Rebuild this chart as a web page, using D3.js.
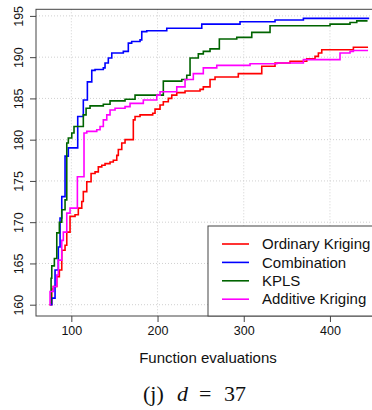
<!DOCTYPE html>
<meta charset="utf-8" />
<style>
  body { margin: 0; background: #fff; }
</style>
<script src="https://d3js.org/d3.v7.min.js"></script>
<svg id="chart" width="372" height="410" font-family="Liberation Sans, Arial, sans-serif"></svg>
<script>
  // best value found vs number of function evaluations (step curves)
  const okEvals = [74.5, 77.3, 79.1, 83.1, 86.1, 88.9, 92.7, 94.7, 98.5, 104.3, 108.1, 112.1, 113.9, 117.9, 122.9, 127.5, 131.3, 135.3, 139.1, 144.9, 148.7, 152.7, 154.5, 158.5, 162.3, 171.9, 173.9, 179.7, 194.4, 197.1, 202.9, 206.7, 212.5, 216.5, 222.3, 231.9, 249.3, 253.1, 260.9, 266.7, 293.7, 320.9, 336.3, 353.7, 373.1, 382.7, 386.6, 390.5, 427.2, 444.2];
  const okValues = [160, 161.9, 162.2, 163.4, 164.2, 166.6, 167.2, 168.8, 170.7, 170.9, 171.7, 172.5, 173.7, 174.9, 175.9, 176.1, 176.7, 176.9, 177.1, 177.3, 177.5, 178.1, 178.8, 179.6, 180, 182.4, 182.8, 183, 183.2, 183.7, 184.2, 184.6, 185, 185.4, 185.7, 185.9, 186.1, 186.4, 187.3, 187.6, 188, 188.9, 189.3, 189.5, 189.8, 190.1, 190.5, 190.9, 191.2, 191.2];

  const combEvals = [75.3, 77.3, 81.1, 84.9, 86.9, 88.9, 92.7, 96.5, 107.4, 113.9, 118.6, 123.7, 127.5, 137.1, 139.1, 142.9, 146.9, 160.3, 166.1, 170, 179.7, 181.7, 187.5, 210.7, 251.3, 295.7, 336.3, 369.2, 444.6];
  const combValues = [160, 160.8, 164.2, 167, 170.5, 173.1, 178, 179, 182.8, 184.8, 187, 188.4, 188.5, 188.7, 189.3, 189.9, 190.5, 190.7, 191.7, 191.9, 192.1, 193.1, 193.2, 193.5, 194.0, 194.3, 194.5, 194.7, 194.8];

  const kplsEvals = [75.3, 76.5, 77.3, 80.3, 83.1, 86.1, 88.9, 92.7, 94.7, 96.5, 100.5, 103.1, 113.9, 117.1, 121.7, 137.1, 144.9, 162.3, 173.9, 206.7, 228.1, 233.9, 237.7, 247.3, 253.1, 260.9, 271.7, 291.9, 309.3, 330.5, 400.1, 423.3, 431.1, 442.7];
  const kplsValues = [160.2, 163.2, 164.7, 165.6, 168.7, 170, 171.5, 172.7, 179.6, 180.2, 180.8, 181.6, 183, 183.8, 184.1, 184.3, 184.7, 184.9, 185.4, 187.1, 187.3, 187.8, 189.9, 190.4, 190.7, 191, 192.2, 192.4, 193, 193.8, 194.0, 194.2, 194.4, 194.5];

  const addEvals = [74.5, 75.3, 79.1, 83.1, 84.9, 88.9, 90.7, 94.7, 98.5, 107, 114.7, 117.9, 129.5, 133.3, 137.1, 141.1, 144.9, 150.7, 162.3, 168.1, 183.5, 199.1, 202.9, 222.3, 231.9, 241.5, 253.1, 268.7, 307.3, 338.3, 369.2, 411.7, 423.3, 427.2, 444.2];
  const addValues = [160, 161.6, 162.2, 163.6, 165.4, 167.8, 168.8, 171.1, 171.7, 175.5, 180.8, 181, 181.2, 181.6, 182.4, 183, 183.6, 183.8, 184, 184.4, 184.8, 185.4, 185.8, 186.4, 187.3, 188, 188.7, 189, 189.2, 189.3, 189.7, 190.5, 190.7, 190.8, 190.8];

  const seriesNames = ["Ordinary Kriging", "Combination", "KPLS", "Additive Kriging"];
  const seriesColors = ["#ff0000", "#0000ff", "#006400", "#ff00ff"];
  const xTicks = [100, 200, 300, 400];
  const yTicks = [160, 165, 170, 175, 180, 185, 190, 195];

  const series = [
    { name: seriesNames[0], color: seriesColors[0], evals: okEvals, values: okValues },
    { name: seriesNames[1], color: seriesColors[1], evals: combEvals, values: combValues },
    { name: seriesNames[2], color: seriesColors[2], evals: kplsEvals, values: kplsValues },
    { name: seriesNames[3], color: seriesColors[3], evals: addEvals, values: addValues }
  ];

  const svg = d3.select("#chart");

  // plot frame runs a bit past the right edge (cropped figure)
  const pLeft = 36, pRight = 380.8, pTop = 9.3, pBottom = 316;

  const x = d3.scaleLinear().domain([59, 459]).range([pLeft, pRight]);
  const y = d3.scaleLinear().domain([158.63, 195.8]).range([pBottom, pTop]);

  // grid
  const grid = svg.append("g").attr("stroke", "#d0d0d0").attr("stroke-dasharray", "1,2").attr("stroke-width", 1);
  grid.selectAll(".gx").data(xTicks).enter().append("line")
    .attr("x1", d => x(d)).attr("x2", d => x(d)).attr("y1", pTop).attr("y2", pBottom);
  grid.selectAll(".gy").data(yTicks).enter().append("line")
    .attr("x1", pLeft).attr("x2", pRight).attr("y1", d => y(d)).attr("y2", d => y(d));

  // lines
  const line = d3.line()
    .x(d => x(d[0]))
    .y(d => y(d[1]))
    .curve(d3.curveStepAfter);

  svg.append("g").selectAll("path")
    .data(series)
    .enter()
    .append("path")
    .attr("fill", "none")
    .attr("stroke", d => d.color)
    .attr("stroke-width", 1.6)
    .attr("d", d => line(d.evals.map((e, i) => [e, d.values[i]])));

  // frame
  svg.append("rect")
    .attr("x", pLeft).attr("y", pTop)
    .attr("width", pRight - pLeft).attr("height", pBottom - pTop)
    .attr("fill", "none").attr("stroke", "#444").attr("stroke-width", 1);

  // axes
  const xAxis = d3.axisBottom(x).tickValues(xTicks).tickSize(6).tickPadding(4);
  const gx = svg.append("g").attr("transform", `translate(0,${pBottom})`).call(xAxis);
  gx.select(".domain").remove();
  gx.selectAll("line").attr("stroke", "#444");
  gx.selectAll("text").attr("font-size", 12.5).attr("fill", "#111")
    .attr("font-family", "Liberation Sans, Arial, sans-serif");

  const yAxis = d3.axisLeft(y).tickValues(yTicks).tickSize(6).tickFormat(d3.format("d"));
  const gy = svg.append("g").attr("transform", `translate(${pLeft},0)`).call(yAxis);
  gy.select(".domain").remove();
  gy.selectAll("line").attr("stroke", "#444");
  gy.selectAll("text")
    .attr("font-size", 12.5).attr("fill", "#111")
    .attr("font-family", "Liberation Sans, Arial, sans-serif")
    .attr("x", null).attr("dy", null)
    .attr("text-anchor", "middle")
    .attr("transform", "translate(-13,0) rotate(-90)");

  svg.append("text")
    .attr("x", 208).attr("y", 363)
    .attr("text-anchor", "middle")
    .attr("font-size", 15).attr("fill", "#111")
    .text("Function evaluations");

  // legend
  const legX = 208, legY = 226;
  svg.append("rect")
    .attr("x", legX).attr("y", legY)
    .attr("width", 200).attr("height", pBottom - legY)
    .attr("fill", "#fff").attr("stroke", "#444").attr("stroke-width", 1);

  const leg = svg.append("g").selectAll("g")
    .data(series)
    .enter()
    .append("g")
    .attr("transform", (d, i) => `translate(${legX}, ${legY + 18 + i * 18.4})`);
  leg.append("line")
    .attr("x1", 14).attr("x2", 41)
    .attr("stroke", d => d.color).attr("stroke-width", 1.6);
  leg.append("text")
    .attr("x", 54).attr("dy", "0.35em")
    .attr("font-size", 15).attr("fill", "#111")
    .text(d => d.name);

  // caption, laid out like TeX math: (j) d = 37
  const cap = svg.append("g")
    .attr("font-family", "Liberation Serif, DejaVu Serif, serif")
    .attr("font-size", 22).attr("fill", "#111");
  cap.append("text").attr("x", 143).attr("y", 401).text("(j)");
  cap.append("text").attr("x", 177).attr("y", 401).attr("font-style", "italic").text("d");
  cap.append("text").attr("x", 199).attr("y", 401).text("=");
  cap.append("text").attr("x", 224).attr("y", 401).text("37");
</script>
